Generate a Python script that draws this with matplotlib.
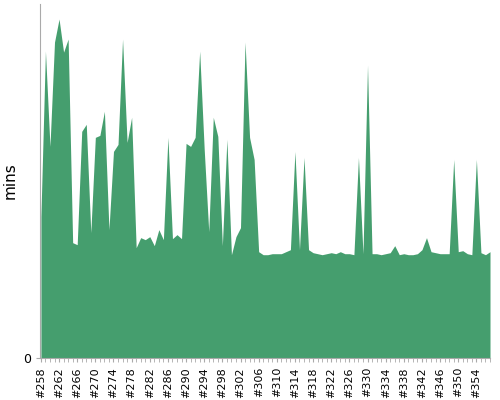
import numpy as np
import matplotlib.pyplot as plt

builds = np.arange(258, 358)
# pixel heights, scaled to minutes
tops = [217, 52, 147, 43, 20, 53, 40, 243, 245, 132,
        125, 233, 138, 136, 112, 230, 152, 145, 40, 143,
        118, 248, 238, 240, 237, 246, 230, 240, 138, 239,
        235, 239, 144, 147, 138, 52, 150, 232, 118, 137,
        246, 140, 255, 237, 228, 43, 138, 160, 252, 255,
        255, 254, 254, 254, 252, 250, 152, 250, 158, 250,
        253, 254, 255, 254, 253, 254, 252, 254, 254, 255,
        158, 254, 66, 254, 254, 255, 254, 253, 246, 255,
        254, 255, 255, 254, 250, 238, 252, 253, 254, 254,
        254, 160, 252, 251, 254, 255, 160, 253, 255, 252]
mins = [(358 - t) / 10 for t in tops]

fig = plt.figure(figsize=(5, 4), dpi=100)
ax = fig.add_axes([0.08, 0.105, 0.9, 0.885])
ax.fill_between(builds, mins, 0, color='#459e6e', lw=0)
ax.set_xlim(257.8, 357)
ax.set_ylim(0, 35.3)
ax.set_yticks([0])
ax.set_xticks(np.arange(258, 358, 4))
ax.set_xticklabels(['#%d' % b for b in range(258, 358, 4)], rotation=90, fontsize=8)
ax.set_xticks(builds, minor=True)
ax.tick_params(axis='x', which='both', length=3, color='#aaaaaa')
ax.tick_params(axis='y', length=3, color='#aaaaaa', labelsize=9)
ax.set_ylabel('mins', fontsize=11)
for s in ['top', 'right']:
    ax.spines[s].set_visible(False)
for s in ['left', 'bottom']:
    ax.spines[s].set_color('#aaaaaa')
fig.savefig('out.png')
